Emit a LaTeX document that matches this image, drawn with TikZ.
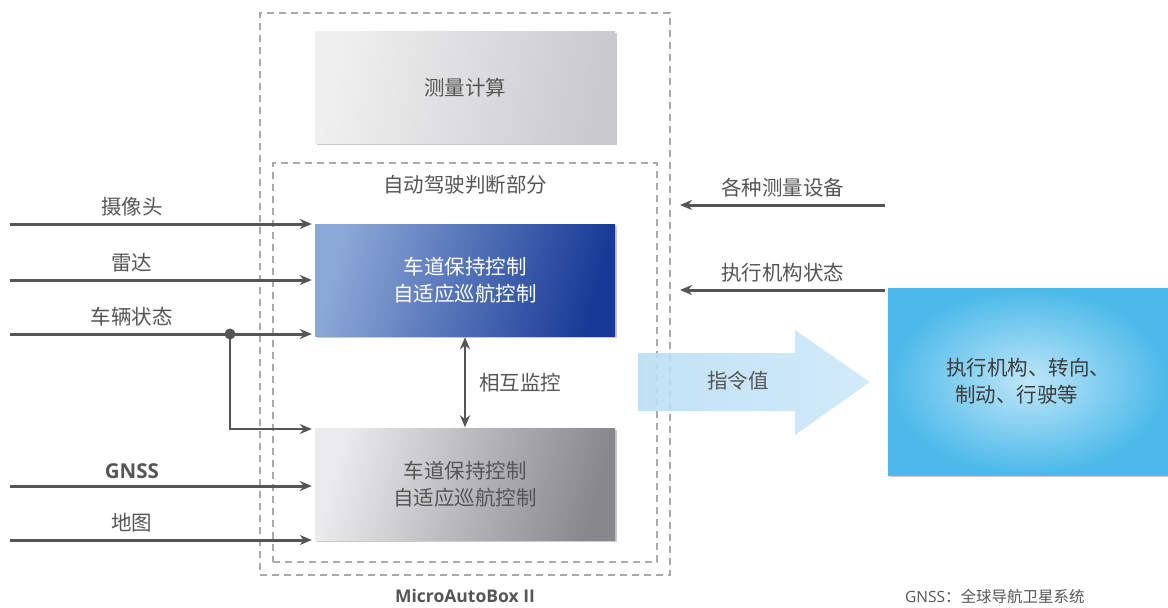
\documentclass[tikz,border=0pt]{standalone}
\usepackage{fontspec}
\setmainfont{Noto Sans CJK SC}
\newfontfamily\latf{Open Sans}
\usetikzlibrary{arrows.meta,shadows,positioning,calc}
\definecolor{ink}{HTML}{555555}
\definecolor{dashc}{HTML}{AAAAAA}
\definecolor{bl1}{RGB}{140,168,215}
\definecolor{bl2}{RGB}{50,95,178}
\definecolor{bl3}{RGB}{24,58,150}
\definecolor{gr1}{RGB}{235,235,237}
\definecolor{gr2}{RGB}{178,178,182}
\definecolor{gr3}{RGB}{135,135,140}
\definecolor{ms1}{RGB}{240,240,241}
\definecolor{ms2}{RGB}{202,202,205}
\definecolor{cy1}{RGB}{190,230,248}
\definecolor{cy2}{RGB}{75,185,233}
\definecolor{ar1}{RGB}{185,222,244}
\definecolor{ar2}{RGB}{205,233,248}
\begin{document}
\begin{tikzpicture}[x=1pt,y=-1pt,
  font=\fontsize{20.5}{27}\selectfont,
  dashbox/.style={draw=dashc,line width=1.4pt,dash pattern=on 7pt off 5pt},
  boxbase/.style={minimum width=300pt,minimum height=112pt,inner sep=0pt,align=center,
     drop shadow={shadow xshift=1.5pt,shadow yshift=-1.5pt,opacity=0.35,fill=black!60}},
  flow/.style={draw=ink,line width=3pt,-{Stealth[length=12pt,width=10pt]}},
  thin/.style={draw=ink,line width=1.8pt},
  lbl/.style={text=ink,inner sep=0pt}]
\useasboundingbox (0,0) rectangle (1168,608);

% dashed frames
\node[dashbox,minimum width=410pt,minimum height=562pt,inner sep=0pt] (outer) at (465,294) {};
\node[dashbox,minimum width=384pt,minimum height=399pt,inner sep=0pt] (inner) at (465,362.5) {};

% boxes
\node[boxbase,left color=ms1,right color=ms2,shading angle=80,text=ink] (meas) at (465,87.5) {测量计算};
\node[lbl] (innerlbl) at (465,185) {自动驾驶判断部分};
\node[boxbase,left color=bl1,middle color=bl2,right color=bl3,shading angle=75,text=white] (blue) at (465,280) {车道保持控制\\自适应巡航控制};
\node[boxbase,left color=gr1,middle color=gr2,right color=gr3,shading angle=75,text=ink] (grey) at (465,484.5) {车道保持控制\\自适应巡航控制};

% left inputs
\coordinate (c1) at (10,224);
\coordinate (c2) at (10,280);
\coordinate (c3) at (10,334);
\coordinate (c4) at (10,486);
\coordinate (c5) at (10,540);
\draw[flow,shorten >=3pt] (c1) -- (c1 -| blue.west) node[lbl,pos=0.4,above=6pt] (l1) {摄像头};
\draw[flow,shorten >=3pt] (c2) -- (c2 -| blue.west) node[lbl,pos=0.4,above=6pt] (l2) {雷达};
\draw[flow,shorten >=3pt] (c3) -- (c3 -| blue.west) node[lbl,pos=0.4,above=6pt] (l3) {车辆状态};
\draw[flow,shorten >=3pt] (c4) -- (c4 -| grey.west) node[lbl,pos=0.4,above=6pt] (l4) {\latf\bfseries GNSS};
\draw[flow,shorten >=3pt] (c5) -- (c5 -| grey.west) node[lbl,pos=0.4,above=6pt] (l5) {地图};

% branch
\coordinate (dot) at (230,334);
\coordinate (bend) at (230,429);
\fill[ink] (dot) circle (5.5pt);
\draw[thin,-{Stealth[length=12pt,width=10pt]},shorten >=3pt] (dot) -- (bend) -- (bend -| grey.west);

% mutual monitoring
\draw[flow,{Stealth[length=12pt,width=10pt]}-{Stealth[length=12pt,width=10pt]},line width=2.5pt,shorten <=1pt,shorten >=1pt] (blue.south) -- (grey.north);
\node[lbl] (mon) at (520,383) {相互监控};

% right box
\node[minimum width=280pt,minimum height=187pt,inner sep=0pt,align=center,
  inner color=cy1,outer color=cy2,
  text={rgb,255:red,60;green,60;blue,60},
  drop shadow={shadow xshift=1.5pt,shadow yshift=-1.5pt,opacity=0.35,fill=black!60}] (act) at (1028,381.5) {执行机构、转向、\\\hspace*{-0.2em}制动、行驶等\hspace*{0.9em}};

% right inputs
\coordinate (r1) at (885,205);
\coordinate (r2) at (885,290);
\coordinate (t1) at (680,205);
\coordinate (t2) at (680,290);
\draw[flow] (r1) -- (t1) node[lbl,midway,above=6pt] (rl1) {各种测量设备};
\draw[flow] (r2) -- (t2) node[lbl,midway,above=6pt] (rl2) {执行机构状态};

% command arrow
\shade[left color=ar1,right color=ar2,opacity=0.9]
  (638,353) -- (795,353) -- (795,330) -- (870,382) -- (795,435) -- (795,411) -- (638,411) -- cycle;
\node[lbl] (cmd) at (738,381) {指令值};

% captions
\node[lbl,font=\latf\bfseries\fontsize{17.5}{20}\selectfont] (mab) at (465,596) {MicroAutoBox II};
\node[lbl,font=\fontsize{15.5}{18}\selectfont,anchor=west] (note) at (905,597) {{\latf GNSS}：全球导航卫星系统};
\end{tikzpicture}
\end{document}
